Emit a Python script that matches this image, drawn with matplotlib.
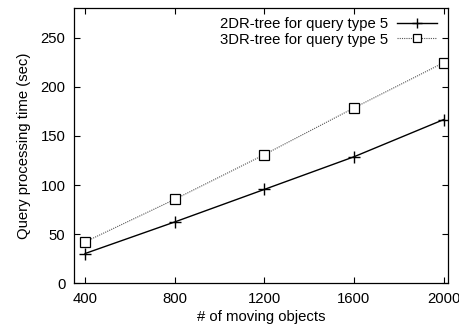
import matplotlib
matplotlib.use("Agg")
import matplotlib.pyplot as plt

# Data
n_objects = [400, 800, 1200, 1600, 2000]
time_2dr = [30.4, 62.5, 95.6, 128.8, 166.6]
time_3dr = [42.2, 85.5, 131.0, 178.5, 224.5]

plt.rcParams["font.family"] = ["Liberation Sans", "DejaVu Sans"]
plt.rcParams["font.size"] = 10.7

fig = plt.figure(figsize=(4.59, 3.28), dpi=100)
ax = fig.add_axes([0.161, 0.136, 0.815, 0.839])

ax.plot(n_objects, time_2dr, color="black", lw=1.0, marker="+", ms=9, mew=1.0,
        label="2DR-tree for query type 5")
ax.plot(n_objects, time_3dr, color="#555555", lw=0.8, ls=(0, (1, 1)), marker="s",
        ms=7.5, mfc="white", mec="black", mew=0.9,
        label="3DR-tree for query type 5")

ax.set_xlim(350, 2020)
ax.set_ylim(0, 280)
ax.set_xticks(n_objects)
ax.set_yticks([0, 50, 100, 150, 200, 250])
ax.tick_params(direction="in", top=True, right=True, length=4, width=0.8, pad=6)
for s in ax.spines.values():
    s.set_linewidth(0.9)

ax.set_xlabel("# of moving objects", labelpad=3)
ax.set_ylabel("Query processing time (sec)", labelpad=7)

leg = ax.legend(loc="upper right", frameon=False, markerfirst=False,
                handlelength=2.7, borderaxespad=0.2, labelspacing=0.1,
                handletextpad=0.6, markerscale=0.8,
                bbox_to_anchor=(0.994, 1.0))
for t in leg.get_texts():
    t.set_ha("right")
leg._legend_box.align = "right"

fig.savefig("out.png", dpi=100)
